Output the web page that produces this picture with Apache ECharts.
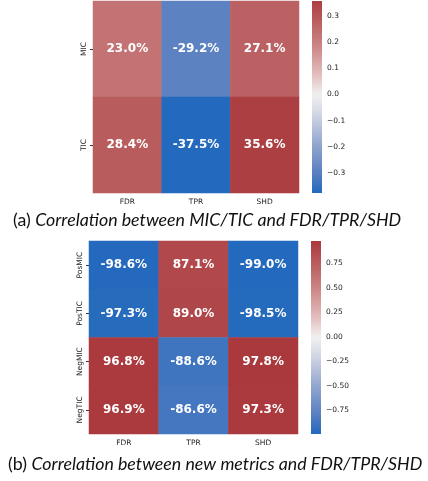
<!DOCTYPE html>
<html>
<head>
<meta charset="utf-8">
<title>heatmap</title>
<script src="https://cdn.jsdelivr.net/npm/echarts@6/dist/echarts.min.js"></script>
<style>
  html, body { margin: 0; padding: 0; background: #fff; }
  #chart { width: 428px; height: 481px; }
</style>
</head>
<body>
<div id="chart"></div>
<script>
// 数据
var metrics = ['FDR', 'TPR', 'SHD'];
var rowsA = ['MIC', 'TIC'];
var valuesA = [
  [23.0, -29.2, 27.1],
  [28.4, -37.5, 35.6]
];
var rowsB = ['PosMIC', 'PosTIC', 'NegMIC', 'NegTIC'];
var valuesB = [
  [-98.6, 87.1, -99.0],
  [-97.3, 89.0, -98.5],
  [96.8, -88.6, 97.8],
  [96.9, -86.6, 97.3]
];
var ticksA = [-0.3, -0.2, -0.1, 0.0, 0.1, 0.2, 0.3];
var ticksB = [-0.75, -0.5, -0.25, 0.0, 0.25, 0.5, 0.75];
var captionA = ['(a) ', 'Correlation between MIC/TIC and FDR/TPR/SHD'];
var captionB = ['(b) ', 'Correlation between new metrics and FDR/TPR/SHD'];

// vlag 色带的关键点 (t: 0 蓝 -> 1 红)
var vlagStops = [
  [0.0, [35, 105, 189]],
  [0.1, [88, 127, 192]],
  [0.25, [147, 167, 207]],
  [0.4, [210, 214, 228]],
  [0.5, [242, 240, 240]],
  [0.6, [226, 190, 189]],
  [0.75, [203, 133, 132]],
  [0.9, [182, 85, 87]],
  [1.0, [169, 55, 59]]
];
function vlag(t) {
  t = Math.max(0, Math.min(1, t));
  for (var i = 1; i < vlagStops.length; i++) {
    var a = vlagStops[i - 1], b = vlagStops[i];
    if (t <= b[0]) {
      var f = (t - a[0]) / (b[0] - a[0]);
      var c = a[1].map(function (v, k) { return Math.round(v + (b[1][k] - v) * f); });
      return 'rgb(' + c.join(',') + ')';
    }
  }
  return 'rgb(169,55,59)';
}
// 以 0 为中心 (seaborn center=0)
function colorList(vmin, vmax) {
  var range = Math.max(Math.abs(vmin), Math.abs(vmax));
  var out = [];
  for (var i = 0; i <= 40; i++) {
    var v = vmin + (vmax - vmin) * i / 40;
    out.push(vlag(0.5 + v / (2 * range)));
  }
  return out;
}

function toCells(values) {
  var cells = [];
  values.forEach(function (row, r) {
    row.forEach(function (v, c) { cells.push([c, r, v / 100]); });
  });
  return cells;
}
function flat(values) {
  var arr = [];
  values.forEach(function (row) { row.forEach(function (v) { arr.push(v / 100); }); });
  return arr;
}
var minA = Math.min.apply(null, flat(valuesA)), maxA = Math.max.apply(null, flat(valuesA));
var minB = Math.min.apply(null, flat(valuesB)), maxB = Math.max.apply(null, flat(valuesB));

var tickFont = { fontFamily: 'DejaVu Sans', fontSize: 7.5, color: '#222' };
function minusFmt(dec) {
  return function (v) { return (v < 0 ? '\u2212' : '') + Math.abs(v).toFixed(dec); };
}

var grids = [
  { left: 93, top: 1, width: 206, height: 192 },     // heatmap a
  { left: 89, top: 241, width: 209, height: 193 },   // heatmap b
  { left: 312, top: 1, width: 10, height: 192 },     // colorbar a
  { left: 311, top: 241, width: 10, height: 193 }    // colorbar b
];

function catX(gi) {
  return {
    type: 'category', gridIndex: gi, data: metrics, position: 'bottom',
    axisLine: { show: false }, splitLine: { show: false },
    axisTick: { show: false },
    axisLabel: Object.assign({ margin: 5 }, tickFont)
  };
}
function catY(gi, rows) {
  return {
    type: 'category', gridIndex: gi, data: rows, inverse: true,
    axisLine: { show: false }, splitLine: { show: false },
    axisTick: { show: true, length: 3, alignWithLabel: true, lineStyle: { color: '#333' } },
    axisLabel: Object.assign({ rotate: 90, margin: 5 }, tickFont)
  };
}
function barX(gi) {
  return { type: 'value', gridIndex: gi, show: false, min: 0, max: 1 };
}
function barY(gi, vmin, vmax, ticks, dec) {
  return {
    type: 'value', gridIndex: gi, position: 'right', min: vmin, max: vmax,
    axisLine: { show: false }, splitLine: { show: false },
    axisTick: { show: true, length: 3, customValues: ticks, lineStyle: { color: '#333' } },
    axisLabel: Object.assign({ margin: 5, customValues: ticks, formatter: minusFmt(dec) }, tickFont)
  };
}

// 颜色条：在对应坐标系里画一个渐变矩形
function colorbar(gi, vmin, vmax) {
  var cols = colorList(vmin, vmax);
  var stops = cols.map(function (c, i) { return { offset: 1 - i / (cols.length - 1), color: c }; }).reverse();
  return {
    type: 'custom', xAxisIndex: gi, yAxisIndex: gi, silent: true,
    data: [[0, vmax]],
    renderItem: function (params, api) {
      var p0 = api.coord([0, vmax]);
      var p1 = api.coord([1, vmin]);
      return {
        type: 'rect',
        shape: { x: p0[0], y: p0[1], width: p1[0] - p0[0], height: p1[1] - p0[1] },
        style: { fill: new echarts.graphic.LinearGradient(0, 0, 0, 1, stops) }
      };
    }
  };
}

var cellLabel = {
  show: true, color: '#fff', fontFamily: 'DejaVu Sans', fontWeight: 'bold', fontSize: 12,
  formatter: function (p) { return (p.value[2] * 100).toFixed(1) + '%'; }
};

function caption(parts, left, top) {
  return {
    left: left, top: top, padding: 0,
    text: '{n|' + parts[0] + '}{i|' + parts[1] + '}',
    textStyle: { fontWeight: 'normal', rich: {
      n: { fontFamily: 'Lato', fontSize: 17.8, fontWeight: 'normal', color: '#111' },
      i: { fontFamily: 'Lato', fontSize: 17.8, fontWeight: 'normal', fontStyle: 'italic', color: '#111' }
    } }
  };
}

var myChart = echarts.init(document.getElementById('chart'), null, { renderer: 'canvas' });
var option = {
  animation: false,
  backgroundColor: '#fff',
  grid: grids,
  xAxis: [catX(0), catX(1), barX(2), barX(3)],
  yAxis: [catY(0, rowsA), catY(1, rowsB), barY(2, minA, maxA, ticksA, 1), barY(3, minB, maxB, ticksB, 2)],
  visualMap: [
    { type: 'continuous', show: false, seriesIndex: 0, min: minA, max: maxA, inRange: { color: colorList(minA, maxA) } },
    { type: 'continuous', show: false, seriesIndex: 1, min: minB, max: maxB, inRange: { color: colorList(minB, maxB) } }
  ],
  title: [caption(captionA, 13, 211), caption(captionB, 8, 455)],
  series: [
    { type: 'heatmap', xAxisIndex: 0, yAxisIndex: 0, data: toCells(valuesA), label: cellLabel },
    { type: 'heatmap', xAxisIndex: 1, yAxisIndex: 1, data: toCells(valuesB), label: cellLabel },
    colorbar(2, minA, maxA),
    colorbar(3, minB, maxB)
  ]
};
myChart.setOption(option);
</script>
</body>
</html>
